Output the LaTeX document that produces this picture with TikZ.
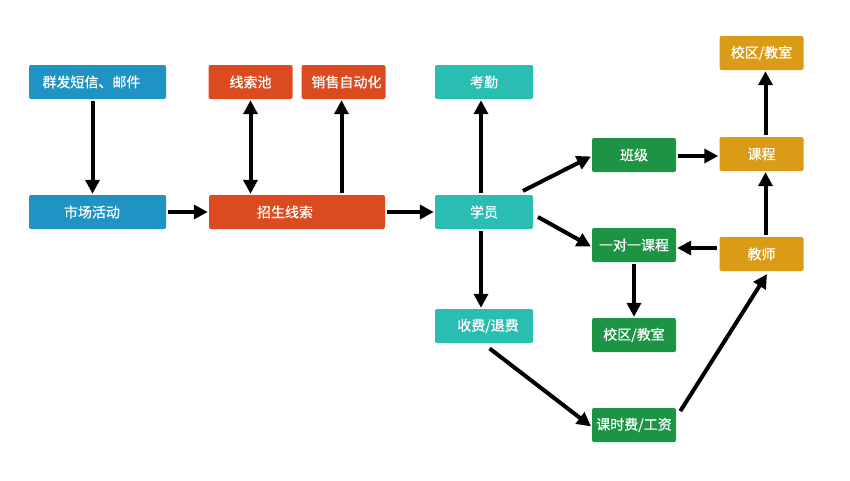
\documentclass[tikz,border=0pt]{standalone}
\usepackage{fontspec}
\setmainfont{Noto Sans CJK SC}[FakeBold=0.6]
\usepackage{xcolor}
\usetikzlibrary{arrows.meta,positioning,calc}

\definecolor{cblue}{HTML}{1E93C4}
\definecolor{cred}{HTML}{DB4B1F}
\definecolor{cteal}{HTML}{2ABDB2}
\definecolor{cgreen}{HTML}{1C9444}
\definecolor{cgold}{HTML}{DA9B16}

\begin{document}
\begin{tikzpicture}[
  x=1pt, y=-1pt,
  box/.style={rectangle, rounded corners=2pt, text=white, inner sep=0pt,
    minimum height=34pt, font=\fontsize{14pt}{16pt}\selectfont},
  wide/.style={box, minimum width=137pt},
  mid/.style={box, minimum width=98pt},
  small/.style={box, minimum width=84pt},
  nudge/.style={execute at begin node={\hspace*{#1}}},
  arrow/.style={-{Triangle[length=14pt,width=14pt]}, line width=4pt, shorten >=1pt, shorten <=2pt},
  darrow/.style={{Triangle[length=14pt,width=14pt]}-{Triangle[length=14pt,width=14pt]}, line width=4pt, shorten >=1pt, shorten <=1pt}
]
\useasboundingbox (0,0) rectangle (850,480);

% left column
\node[wide, fill=cblue, nudge=-12pt] (sms) at (97.5,82) {群发短信、邮件};
\node[wide, fill=cblue, nudge=-11pt] (mkt) at (97.5,212) {市场活动};

% leads
\node[small, fill=cred] (pool) at (250.5,82) {线索池};
\node[small, fill=cred, nudge=6pt] (sfa) at (343.5,82) {销售自动化};
\node[box, fill=cred, minimum width=176pt, nudge=-24pt] (lead) at (297,212) {招生线索};

% students
\node[mid, fill=cteal] (attend) at (484,82) {考勤};
\node[mid, fill=cteal] (stu) at (484,212) {学员};
\node[mid, fill=cteal, nudge=8pt] (fee) at (484,326) {收费/退费};

% classes
\node[small, fill=cgreen] (banji) at (634,155) {班级};
\node[small, fill=cgreen] (one) at (634,245) {一对一课程};
\node[small, fill=cgreen] (campusA) at (634,335) {校区/教室};
\node[small, fill=cgreen] (hour) at (634,425) {课时费/工资};

% courses
\node[small, fill=cgold] (campusB) at (761.5,53) {校区/教室};
\node[small, fill=cgold] (course) at (761.5,154) {课程};
\node[small, fill=cgold] (teacher) at (761.5,254) {教师};

\draw[arrow] ([xshift=-5pt]sms.south) -- ([xshift=-5pt]mkt.north);
\draw[arrow] (mkt.east) -- (lead.west);
\draw[darrow] (pool.south) -- (pool.south |- lead.north);
\draw[arrow] ([xshift=-2pt]sfa.south |- lead.north) -- ([xshift=-2pt]sfa.south);
\draw[arrow] (lead.east) -- (stu.west);
\draw[arrow] ([xshift=-3pt]stu.north) -- ([xshift=-3pt]attend.south);
\draw[arrow] ([xshift=-3pt]stu.south) -- ([xshift=-3pt]fee.north);
\draw[arrow] ([xshift=-12pt,yshift=3pt]stu.north east) -- ([yshift=-1pt]banji.west);
\draw[arrow] ([xshift=3pt,yshift=-4pt]stu.east) -- ([yshift=-2pt]one.west);
\draw[arrow] ([xshift=4pt,yshift=-4pt]fee.south) -- ([yshift=-2pt]hour.west);
\draw[arrow] ([yshift=-1pt]banji.east) -- ([yshift=-1pt]banji.east -| course.west);
\draw[arrow] ([xshift=4pt]course.north) -- ([xshift=4pt]campusB.south);
\draw[arrow] ([xshift=4pt]teacher.north) -- ([xshift=4pt]course.south);
\draw[arrow] ([yshift=6pt]teacher.west) -- ([yshift=6pt]teacher.west -| one.east);
\draw[arrow] (one.south) -- (campusA.north);
\draw[arrow] ([xshift=3pt,yshift=-5pt]hour.north east) -- ([xshift=6pt,yshift=-2pt]teacher.south);
\end{tikzpicture}
\end{document}
